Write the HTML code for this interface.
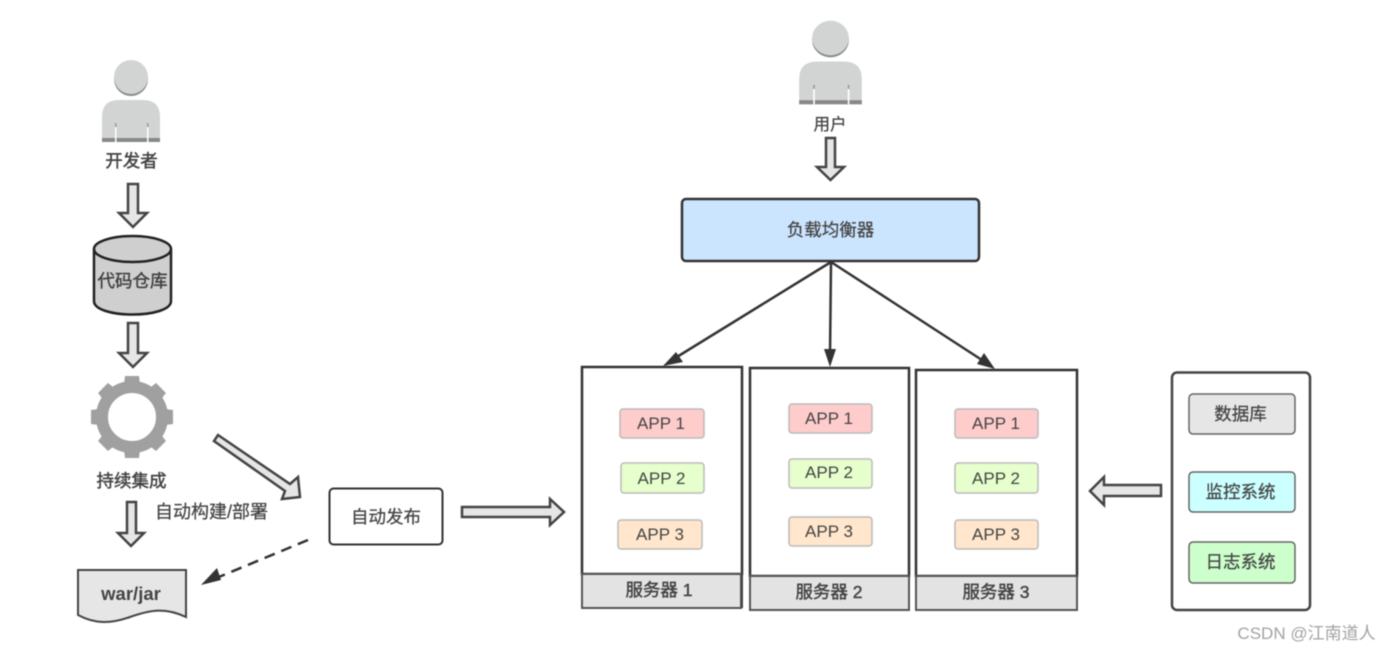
<!DOCTYPE html>
<html><head><meta charset="utf-8"><style>
html,body{margin:0;padding:0;background:#fff;width:1390px;height:651px;overflow:hidden}
svg{display:block;filter:blur(.45px)}
text{font-family:"Liberation Sans","Noto Sans CJK SC",sans-serif;fill:#444;text-anchor:middle;font-size:17.5px;stroke:#444;stroke-width:.25px}
.b{stroke:#444;stroke-width:2.5;fill:#e6e6e6;stroke-linejoin:miter}
.box{stroke:#333;stroke-width:2.5;fill:#fff}
.f{stroke:#555;stroke-width:2;fill:#e3e3e3}
.a{stroke:#bbb;stroke-width:1.5}
.l{stroke:#333;stroke-width:2.5;fill:none}
.p{font-size:17px;stroke-width:0}
.s{stroke-width:.45px}
</style></head><body>
<svg width="1390" height="651" viewBox="0 0 1390 651" xmlns="http://www.w3.org/2000/svg">
<defs>
<g id="p1">
<circle cx="0" cy="1" r="17" fill="#8a8a8a"/>
<circle cx="0" cy="-1" r="17" fill="#d2d4d4"/>
<path d="M-29 64V39Q-29 22-12 22H12Q29 22 29 39V64Z" fill="#d2d4d4"/>
<rect x="-29" y="60" width="58" height="4" fill="#888"/>
<rect x="-16" y="49" width="1.500" height="15" fill="#fff"/>
<rect x="16" y="49" width="1.500" height="15" fill="#fff"/>
<rect x="-16" y="45" width="1.500" height="4" fill="#999"/>
<rect x="16" y="45" width="1.500" height="4" fill="#999"/>
</g>
</defs>

<!-- developer -->
<use href="#p1" x="131" y="78"/>
<text x="131.500" y="167" class="s">开发者</text>
<polygon class="b" points="128,184 138,184 138,213 147,213 133,227 119,213 128,213"/>

<!-- repo -->
<path d="M94 249V301C94 319 171 319 171 301V249" fill="#cfcfcf" stroke="#222" stroke-width="2.5"/>
<ellipse cx="132.5" cy="249" rx="38.5" ry="13" fill="#cfcfcf" stroke="#222" stroke-width="2.5"/>
<text x="132.5" y="287" class="s">代码仓库</text>
<polygon class="b" points="128,323 138,323 138,353 147,353 133,367 119,353 128,353"/>

<!-- gear -->
<g transform="translate(132,417)" fill="#a0a0a0">
<circle r="30" fill="none" stroke="#a0a0a0" stroke-width="12"/>
<path d="M-7 -41H7L8 -33H-8Z"/>
<path d="M-7 -41H7L8 -33H-8Z" transform="rotate(45)"/>
<path d="M-7 -41H7L8 -33H-8Z" transform="rotate(90)"/>
<path d="M-7 -41H7L8 -33H-8Z" transform="rotate(135)"/>
<path d="M-7 -41H7L8 -33H-8Z" transform="rotate(180)"/>
<path d="M-7 -41H7L8 -33H-8Z" transform="rotate(225)"/>
<path d="M-7 -41H7L8 -33H-8Z" transform="rotate(270)"/>
<path d="M-7 -41H7L8 -33H-8Z" transform="rotate(315)"/>
</g>
<text x="131.500" y="487" class="s">持续集成</text>
<polygon class="b" points="127,502 136,502 136,533 144,533 131,546 118,533 127,533"/>
<text x="211.500" y="518" style="font-size:18px">自动构建/部署</text>

<!-- doc -->
<path d="M78 570H186V617C165 607 150 610 130 617C110 624 95 624 78 615Z" fill="#e6e6e6" stroke="#444" stroke-width="2"/>
<text x="131" y="600" font-weight="700" style="font-size:18.500px;stroke-width:0">war/jar</text>

<!-- diag arrow -->
<polygon class="b" points="218,435 290,484 298,477 300,497 282,499 285,491 214,441"/>
<!-- dashed -->
<line x1="308" y1="540" x2="214" y2="579" stroke="#333" stroke-width="2.5" stroke-dasharray="11 7"/>
<polygon points="201,585 217,568 221,580" fill="#333"/>

<!-- auto publish -->
<rect x="329.500" y="488.500" width="113" height="56" rx="4" fill="#fff" stroke="#333" stroke-width="2"/>
<text x="386" y="523">自动发布</text>
<polygon class="b" points="462,507 550,507 550,499 564,512 550,525 550,517 462,517"/>

<!-- user -->
<use href="#p1" transform="translate(830.500,39) scale(1.08,1.02)"/>
<text x="830" y="130" style="font-size:16.500px">用户</text>
<polygon class="b" points="826,138 835,138 835,167 844,167 830.500,180 817,167 826,167"/>

<!-- LB -->
<rect x="682" y="199" width="297" height="62" rx="4" fill="#cce5ff" stroke="#333" stroke-width="2.500"/>
<text x="830.500" y="236">负载均衡器</text>
<line class="l" x1="831" y1="262" x2="672" y2="360"/>
<polygon points="663,366 676,352 683,362" fill="#333"/>
<line class="l" x1="831" y1="262" x2="830" y2="355"/>
<polygon points="830,367 824,349 836,349" fill="#333"/>
<line class="l" x1="831" y1="262" x2="985" y2="362"/>
<polygon points="995,369 977,364 984,353" fill="#333"/>

<!-- server 1 -->
<rect class="box" x="582" y="367" width="160" height="207"/>
<rect class="f" x="582" y="574" width="159" height="34"/>
<line x1="742" y1="574" x2="742" y2="608" stroke="#444" stroke-width="2"/>
<text x="659" y="596" class="s">服务器 1</text>
<rect class="a" x="620" y="409" width="84" height="29" rx="3" fill="#ffcccc"/><text x="661" y="429" class="p">APP 1</text>
<rect class="a" x="621" y="463" width="83" height="30" rx="3" fill="#e6ffcc"/><text x="661.500" y="484" class="p">APP 2</text>
<rect class="a" x="618" y="520" width="84" height="29" rx="3" fill="#ffe6cc"/><text x="660" y="540" class="p">APP 3</text>

<!-- server 2 -->
<rect class="box" x="750" y="368" width="159" height="208"/>
<rect class="f" x="750" y="576" width="159" height="34"/>
<text x="829" y="598" class="s">服务器 2</text>
<rect class="a" x="789" y="404" width="83" height="29" rx="3" fill="#ffcccc"/><text x="829" y="424" class="p">APP 1</text>
<rect class="a" x="789" y="459" width="83" height="29" rx="3" fill="#e6ffcc"/><text x="829" y="478" class="p">APP 2</text>
<rect class="a" x="789" y="517" width="83" height="29" rx="3" fill="#ffe6cc"/><text x="829" y="537" class="p">APP 3</text>

<!-- server 3 -->
<rect class="box" x="916" y="370" width="161" height="206"/>
<rect class="f" x="916" y="576" width="161" height="34"/>
<text x="996" y="598" class="s">服务器 3</text>
<rect class="a" x="955" y="409" width="83" height="29" rx="3" fill="#ffcccc"/><text x="996" y="429" class="p">APP 1</text>
<rect class="a" x="955" y="463" width="83" height="30" rx="3" fill="#e6ffcc"/><text x="996" y="484" class="p">APP 2</text>
<rect class="a" x="955" y="520" width="83" height="29" rx="3" fill="#ffe6cc"/><text x="996" y="540" class="p">APP 3</text>

<!-- left arrow -->
<polygon class="b" points="1161,485 1104,485 1104,477 1090,491 1104,505 1104,496 1161,496"/>

<!-- side panel -->
<rect x="1172" y="372.500" width="138" height="237.500" rx="5" fill="#fff" stroke="#444" stroke-width="2.500"/>
<rect x="1189" y="394" width="106" height="40" rx="4" fill="#e6e6e6" stroke="#666" stroke-width="1.500"/>
<text x="1240.500" y="420">数据库</text>
<rect x="1189" y="472" width="106" height="40" rx="4" fill="#ccffff" stroke="#666" stroke-width="1.500"/>
<text x="1240.500" y="498">监控系统</text>
<rect x="1189" y="542" width="106" height="41" rx="4" fill="#ccffcc" stroke="#666" stroke-width="1.500"/>
<text x="1240.500" y="568">日志系统</text>

<text x="1306.500" y="639" style="font-size:17px;fill:#a3a3a3;stroke-width:0">CSDN @江南道人</text>
</svg>
</body></html>
